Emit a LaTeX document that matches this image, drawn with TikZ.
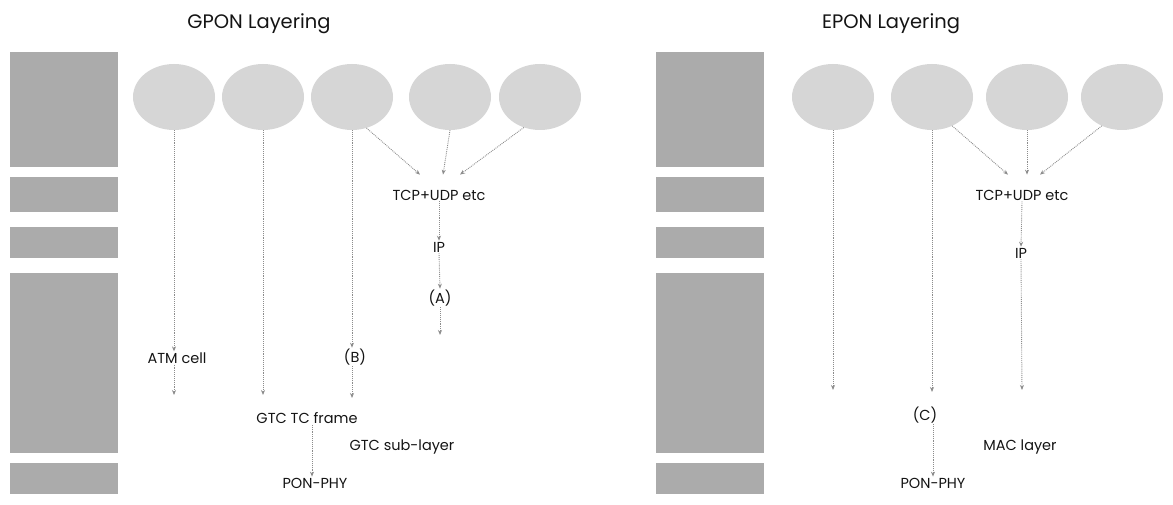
\documentclass[tikz,border=0pt]{standalone}
\usepackage{fontspec}
\setmainfont{Poppins}
\usetikzlibrary{arrows.meta,positioning,shapes.geometric,calc}
\definecolor{ink}{HTML}{141414}
\definecolor{screen}{HTML}{ABABAB}
\definecolor{bubble}{HTML}{D6D6D6}
\definecolor{wire}{HTML}{8C8C8C}
\tikzset{
  layerbox/.style={fill=screen,draw=none,inner sep=0pt,minimum width=108pt},
  service/.style={ellipse,fill=bubble,draw=none,inner sep=0pt,
                  minimum width=82pt,minimum height=66pt},
  title/.style={font=\fontsize{19.5}{22}\selectfont,text=ink,inner sep=0pt},
  tag/.style={font=\fontsize{14.5}{16}\selectfont,text=ink,inner sep=1pt},
  link/.style={draw=wire,densely dotted,line width=0.9pt,
               -{Stealth[length=5pt,width=4pt]}}
}
\begin{document}
\begin{tikzpicture}[x=1pt,y=-1pt]
  \useasboundingbox (0,0) rectangle (1173,505);

  \node[title] (gtitle) at (259,24) {GPON Layering};
  \node[title] (etitle) at (891,24) {EPON Layering};

  % layer stacks on the left of each half
  \foreach \yc/\h [count=\i] in {109.5/115,194.5/35,242.5/31,363/180,478.5/31}{
    \node[layerbox,minimum height=\h pt] (gb\i) at (64,\yc) {};
    \node[layerbox,minimum height=\h pt] (eb\i) at (710,\yc) {};
  }
  % service bubbles
  \foreach \xc [count=\i] in {174,263,352,450,540}
    \node[service] (g\i) at (\xc,97) {};
  \foreach \xc [count=\i] in {833,932,1027,1122}
    \node[service] (e\i) at (\xc,97) {};

  % GPON
  \node[tag] (tcpG) at (439,195) {TCP+UDP etc};
  \node[tag] (ipG) at (439,247) {IP};
  \node[tag] (aG) at (440,298) {(A)};
  \node[tag] (atm) at (177,358) {ATM cell};
  \node[tag] (bG) at (355,357) {(B)};
  \node[tag] (frame) at (307,418) {GTC TC frame};
  \node[tag] (gtc) at (402,447) {GTC sub-layer};
  \node[tag] (phyG) at (315,483) {PON-PHY};
  \coordinate (atmEnd) at (174,395);
  \coordinate (g2End) at (263,395);
  \coordinate (bEnd) at (352,398);
  \coordinate (aEnd) at (440,335);

  \draw[link] (g1.south) -- (g1.south |- atm.north);
  \draw[link] (g1.south |- atm.south) -- (atmEnd);
  \draw[link] (g2.south) -- (g2End);
  \draw[link] (g3.south) -- (g3.south |- bG.north);
  \draw[link] (g3.south |- bG.south) -- (bEnd);
  \draw[link] (g3.-65) -- ([xshift=-19pt,yshift=14pt]tcpG.north);
  \draw[link] (g4.south) -- ([xshift=4pt,yshift=14pt]tcpG.north);
  \draw[link] (g5.-118) -- ([xshift=21pt,yshift=14pt]tcpG.north);
  \draw[link] (tcpG.south) -- (ipG.north);
  \draw[link] (ipG.south) -- (aG.north);
  \draw[link] (aG.south) -- (aEnd);
  \draw[link] ([xshift=5pt]frame.south) -- ([xshift=5pt]frame.south |- phyG.north);

  % EPON
  \node[tag] (tcpE) at (1022,195) {TCP+UDP etc};
  \node[tag] (ipE) at (1021,253) {IP};
  \node[tag] (cE) at (925,415) {(C)};
  \node[tag] (mac) at (1020,447) {MAC layer};
  \node[tag] (phyE) at (933,483) {PON-PHY};
  \coordinate (e1End) at (833,390);
  \coordinate (e2End) at (932,392);
  \coordinate (ipEnd) at (1022,390);

  \draw[link] (e1.south) -- (e1End);
  \draw[link] (e2.south) -- (e2End);
  \draw[link] (e2.-55) -- ([xshift=-14pt,yshift=14pt]tcpE.north);
  \draw[link] (e3.south) -- ([yshift=14pt]tcpE.north -| e3.south);
  \draw[link] (e4.-125) -- ([xshift=18pt,yshift=14pt]tcpE.north);
  \draw[link] (tcpE.south) -- (ipE.north);
  \draw[link] (ipE.south) -- (ipEnd);
  \draw[link] (cE.south -| phyE.north) -- (phyE.north);
\end{tikzpicture}
\end{document}
